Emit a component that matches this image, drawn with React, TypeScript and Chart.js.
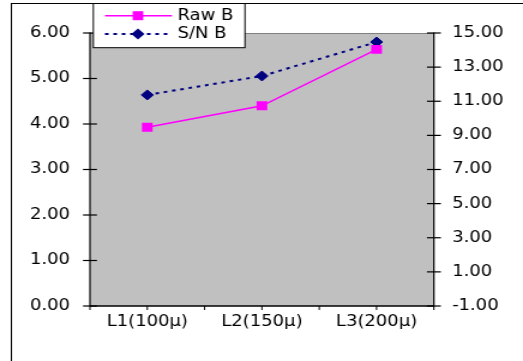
import React, { useEffect, useRef } from 'react';
import { Chart, registerables } from 'chart.js';

Chart.register(...registerables);

// ---- data ----
const categories = ['L1(100μ)', 'L2(150μ)', 'L3(200μ)'];
const rawB = [3.93, 4.4, 5.64];
const snB = [11.37, 12.48, 14.47];
const seriesNames = ['Raw B', 'S/N B'];
const leftAxis = { min: 0, max: 6, step: 1 };
const rightAxis = { min: -1, max: 15, step: 2 };

// ---- layout (internal canvas coords; canvas is stretched horizontally) ----
const CW = 436;
const CH = 361;
const FONT = 'DejaVu Sans';
const MAGENTA = '#FF00FF';
const NAVY = '#000080';

function seg(ctx: CanvasRenderingContext2D, x1: number, y1: number, x2: number, y2: number) {
  ctx.beginPath();
  ctx.moveTo(x1, y1);
  ctx.lineTo(x2, y2);
  ctx.stroke();
}

const decor = {
  id: 'decor',
  beforeDraw(chart: any) {
    const { ctx, chartArea: a } = chart;
    ctx.save();
    ctx.fillStyle = '#ffffff';
    ctx.fillRect(0, 0, chart.width, chart.height);
    // outer frame
    ctx.strokeStyle = '#000';
    ctx.lineWidth = 1;
    ctx.strokeRect(9.5, 3.5, 1000, 1000);
    // plot area
    ctx.fillStyle = '#C0C0C0';
    ctx.fillRect(a.left, a.top, a.right - a.left, a.bottom - a.top);
    ctx.strokeStyle = '#808080';
    ctx.lineWidth = 1;
    seg(ctx, a.left, a.top + 0.5, a.right, a.top + 0.5);
    // axes
    ctx.strokeStyle = '#000';
    ctx.lineWidth = 1.2;
    seg(ctx, a.left, a.top - 0.5, a.left, a.bottom + 0.5);
    seg(ctx, a.right, a.top - 0.5, a.right, a.bottom + 0.5);
    ctx.lineWidth = 1.5;
    seg(ctx, a.left, a.bottom, a.right, a.bottom);
    // y ticks (crossing)
    ctx.lineWidth = 1.2;
    const y = chart.scales.y;
    y.ticks.forEach((t: any) => {
      const py = y.getPixelForValue(t.value);
      seg(ctx, a.left - 5.8, py, a.left + 5.8, py);
    });
    const y2 = chart.scales.y2;
    y2.ticks.forEach((t: any) => {
      const py = y2.getPixelForValue(t.value);
      seg(ctx, a.right - 5.8, py, a.right + 5.8, py);
    });
    // x ticks (boundaries and centres)
    const x = chart.scales.x;
    const half = (x.getPixelForValue(1) - x.getPixelForValue(0)) / 2;
    ctx.lineWidth = 1;
    categories.forEach((_, i) => {
      const px = x.getPixelForValue(i);
      seg(ctx, px, a.bottom, px, a.bottom + 4);
      seg(ctx, px + half, a.bottom, px + half, a.bottom + 4);
      if (i === 0) seg(ctx, px - half, a.bottom, px - half, a.bottom + 4);
    });
    ctx.restore();
  },
  afterDraw(chart: any) {
    const { ctx } = chart;
    ctx.save();
    // legend box
    ctx.fillStyle = '#fff';
    ctx.fillRect(77.8, 3.5, 126.4, 44.2);
    ctx.strokeStyle = '#000';
    ctx.lineWidth = 1;
    ctx.strokeRect(77.8, 3.5, 126.4, 44.2);
    const rows = [15.7, 34];
    const x1 = 87.5;
    const x2 = 143.3;
    const cx = 115;
    // Raw B
    ctx.strokeStyle = MAGENTA;
    ctx.lineWidth = 1.5;
    seg(ctx, x1, rows[0], x2, rows[0]);
    ctx.fillStyle = MAGENTA;
    ctx.fillRect(cx - 4.4, rows[0] - 4.5, 8.8, 9);
    // S/N B
    ctx.strokeStyle = NAVY;
    ctx.lineWidth = 2;
    ctx.setLineDash([3, 4]);
    seg(ctx, x1, rows[1], x2, rows[1]);
    ctx.setLineDash([]);
    ctx.fillStyle = NAVY;
    ctx.beginPath();
    ctx.moveTo(cx, rows[1] - 5.5);
    ctx.lineTo(cx + 5.5, rows[1]);
    ctx.lineTo(cx, rows[1] + 5.5);
    ctx.lineTo(cx - 5.5, rows[1]);
    ctx.closePath();
    ctx.fill();
    // text
    ctx.fillStyle = '#000';
    ctx.font = `15px "${FONT}"`;
    ctx.textAlign = 'left';
    ctx.textBaseline = 'middle';
    ctx.fillText(seriesNames[0], 148, rows[0] + 0.5);
    ctx.fillText(seriesNames[1], 148, rows[1] + 0.5);
    ctx.restore();
  },
};

export default function App() {
  const ref = useRef<HTMLCanvasElement | null>(null);

  useEffect(() => {
    if (!ref.current) return;
    const fmt = (v: any) => Number(v).toFixed(2);
    const tickFont = { family: FONT, size: 15 };
    const chart = new Chart(ref.current, {
      type: 'line',
      data: {
        labels: categories,
        datasets: [
          {
            label: seriesNames[0],
            data: rawB,
            yAxisID: 'y',
            borderColor: MAGENTA,
            backgroundColor: MAGENTA,
            borderWidth: 1.5,
            pointStyle: 'rect',
            pointRadius: 6.3,
            pointBorderWidth: 0,
            pointBackgroundColor: MAGENTA,
            tension: 0,
          },
          {
            label: seriesNames[1],
            data: snB,
            yAxisID: 'y2',
            borderColor: NAVY,
            backgroundColor: NAVY,
            borderWidth: 2,
            borderDash: [3, 4],
            pointStyle: 'rectRot',
            pointRadius: 5,
            pointBorderWidth: 1,
            pointBackgroundColor: NAVY,
            pointBorderColor: NAVY,
            tension: 0,
          },
        ],
      },
      options: {
        responsive: false,
        animation: false,
        devicePixelRatio: 1,
        events: [],
        layout: { padding: { top: 33, left: 0, right: 0, bottom: 0 } },
        plugins: {
          legend: { display: false },
          tooltip: { enabled: false },
          title: { display: false },
        },
        scales: {
          x: {
            type: 'category',
            offset: true,
            grid: { display: false, drawTicks: false },
            border: { display: false },
            ticks: {
              color: '#000',
              font: tickFont,
              padding: 7,
              maxRotation: 0,
              autoSkip: false,
            },
            afterFit: (s: any) => {
              s.height = 55;
            },
          },
          y: {
            position: 'left',
            min: leftAxis.min,
            max: leftAxis.max,
            grid: { display: false, drawTicks: false },
            border: { display: false },
            ticks: {
              stepSize: leftAxis.step,
              callback: fmt,
              color: '#000',
              font: tickFont,
              padding: 16.7,
            },
            afterFit: (s: any) => {
              s.width = 75;
            },
          },
          y2: {
            position: 'right',
            min: rightAxis.min,
            max: rightAxis.max,
            grid: { display: false, drawTicks: false },
            border: { display: false },
            ticks: {
              stepSize: rightAxis.step,
              callback: fmt,
              color: '#000',
              font: tickFont,
              padding: 15.2,
            },
            afterFit: (s: any) => {
              s.width = CW - 361.7;
            },
          },
        },
      },
      plugins: [decor],
    });
    return () => chart.destroy();
  }, []);

  return (
    <div
      style={{
        position: 'fixed',
        left: 0,
        top: 0,
        width: 523,
        height: 361,
        background: '#fff',
        overflow: 'hidden',
      }}
    >
      <canvas
        ref={ref}
        width={CW}
        height={CH}
        style={{ width: '523px', height: '361px', display: 'block' }}
      />
    </div>
  );
}
